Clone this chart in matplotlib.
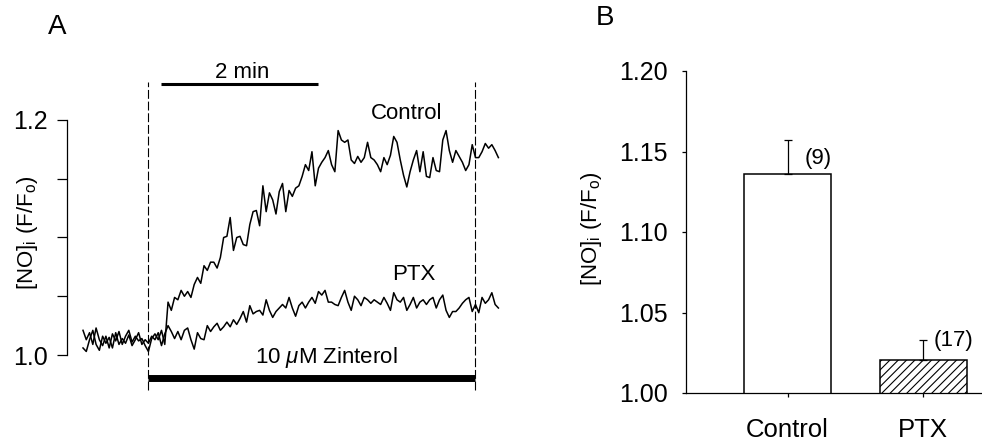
import matplotlib
matplotlib.use("Agg")
import matplotlib.pyplot as plt
import numpy as np

plt.rcParams['font.family'] = ['Liberation Sans', 'DejaVu Sans']
plt.rcParams['mathtext.fontset'] = 'custom'
plt.rcParams['mathtext.rm'] = 'Liberation Sans'
plt.rcParams['mathtext.it'] = 'Liberation Sans:italic'
plt.rcParams['hatch.linewidth'] = 0.8

# panel A: traces sampled every 2.5 s
dt = 2.5
control_trace = [
    1.021, 1.013, 1.019, 1.009, 1.023, 1.013, 1.008, 1.016, 1.006, 1.018,
    1.012, 1.020, 1.009, 1.016, 1.021, 1.011, 1.016, 1.012, 1.014, 1.008,
    1.003, 1.014, 1.018, 1.013, 1.021, 1.009, 1.045, 1.038, 1.049, 1.047,
    1.055, 1.050, 1.054, 1.049, 1.060, 1.066, 1.061, 1.076, 1.072, 1.079,
    1.079, 1.074, 1.083, 1.100, 1.101, 1.117, 1.089, 1.100, 1.101, 1.094,
    1.093, 1.111, 1.122, 1.123, 1.110, 1.144, 1.122, 1.138, 1.132, 1.120,
    1.139, 1.146, 1.122, 1.140, 1.135, 1.142, 1.144, 1.152, 1.162, 1.157,
    1.173, 1.144, 1.159, 1.164, 1.168, 1.174, 1.162, 1.156, 1.191, 1.183,
    1.181, 1.183, 1.166, 1.163, 1.169, 1.164, 1.168, 1.181, 1.168, 1.166,
    1.162, 1.156, 1.168, 1.162, 1.170, 1.186, 1.181, 1.166, 1.153, 1.143,
    1.156, 1.166, 1.174, 1.156, 1.173, 1.152, 1.151, 1.168, 1.157, 1.156,
    1.183, 1.191, 1.174, 1.164, 1.174, 1.169, 1.164, 1.157, 1.162, 1.179,
    1.168, 1.168, 1.173, 1.180, 1.176, 1.179, 1.174, 1.168,
]
ptx_trace = [
    1.006, 1.003, 1.013, 1.021, 1.009, 1.004, 1.016, 1.010, 1.015, 1.006,
    1.019, 1.009, 1.014, 1.010, 1.017, 1.008, 1.013, 1.019, 1.009, 1.013,
    1.010, 1.016, 1.013, 1.019, 1.008, 1.018, 1.025, 1.020, 1.014, 1.020,
    1.013, 1.021, 1.023, 1.013, 1.005, 1.019, 1.014, 1.013, 1.025, 1.020,
    1.024, 1.027, 1.021, 1.024, 1.028, 1.024, 1.030, 1.026, 1.031, 1.037,
    1.028, 1.042, 1.035, 1.037, 1.038, 1.034, 1.047, 1.038, 1.032, 1.037,
    1.040, 1.043, 1.040, 1.049, 1.040, 1.033, 1.042, 1.045, 1.040, 1.045,
    1.049, 1.044, 1.054, 1.051, 1.055, 1.045, 1.045, 1.043, 1.042, 1.049,
    1.055, 1.045, 1.038, 1.050, 1.047, 1.042, 1.049, 1.047, 1.044, 1.047,
    1.045, 1.043, 1.049, 1.044, 1.038, 1.053, 1.047, 1.045, 1.049, 1.038,
    1.043, 1.049, 1.040, 1.045, 1.047, 1.043, 1.047, 1.049, 1.040, 1.047,
    1.051, 1.038, 1.032, 1.037, 1.037, 1.040, 1.044, 1.047, 1.049, 1.037,
    1.043, 1.036, 1.049, 1.044, 1.047, 1.053, 1.043, 1.040,
]
drug_on, drug_off = 50, 300      # s
scale_bar = (60, 180)            # 2 min

# panel B: summary
groups = ['Control', 'PTX']
means = [1.136, 1.0205]
sems = [0.021, 0.0125]
n_cells = ['(9)', '(17)']

t = np.arange(len(control_trace)) * dt

fig = plt.figure(figsize=(9.82, 4.45), dpi=100)

# ---- A
ax = fig.add_axes([67/982, 50/445, 433/982, 335/445])
ax.plot(t, control_trace, color='black', lw=1.1)
ax.plot(t, ptx_trace, color='black', lw=1.1)
ax.set_xlim(-12.23, 318.73)
ax.set_ylim(0.96596, 1.25106)
for s in ['top', 'right', 'bottom']:
    ax.spines[s].set_visible(False)
ax.spines['left'].set_bounds(1.0, 1.2)
ax.spines['left'].set_linewidth(0.9)
ax.set_xticks([])
ax.set_yticks([1.0, 1.05, 1.1, 1.15, 1.2])
ax.set_yticklabels(['1.0', '', '', '', '1.2'])
ax.tick_params(axis='y', length=7, width=0.9, pad=7, labelsize=18)

for x in (drug_on, drug_off):
    ax.plot([x, x], [0.9702, 1.2323], color='black', lw=0.8, ls=(0, (8, 2.5)), clip_on=False)
ax.plot([drug_on, drug_off], [0.9804, 0.9804], color='black', lw=5, solid_capstyle='butt', clip_on=False)
ax.plot(scale_bar, [1.2306, 1.2306], color='black', lw=2.2, solid_capstyle='butt', clip_on=False)
ax.text(sum(scale_bar) / 2 + 2, 1.2357, '2 min', ha='center', va='baseline', fontsize=16)
ax.text(247.6, 1.2009, 'Control', ha='center', va='baseline', fontsize=16)
ax.text(253, 1.0638, 'PTX', ha='center', va='baseline', fontsize=16)
ax.text(185.7, 0.9932, r'10 $\mu$M Zinterol', ha='center', va='baseline', fontsize=16)

ylab = r'[NO]$_\mathregular{i}$ (F/F$_\mathregular{o}$)'
fig.text(27/982, 1 - 233/445, ylab, rotation=90, ha='center', va='center', fontsize=16)
fig.text(57/982, 1 - 27/445, 'A', ha='center', va='center', fontsize=20)

# ---- B
bx = fig.add_axes([686/982, 52/445, 296/982, 322/445])
pos = np.arange(len(groups))
bars = bx.bar(pos, means, width=0.642, bottom=0, color='white', edgecolor='black', linewidth=1.1, zorder=2)
bars[1].set_hatch('////')
bx.errorbar(pos, means, yerr=[[0, 0], sems], fmt='none', ecolor='black', elinewidth=0.9,
            capsize=3.2, capthick=0.9, zorder=3)
for i, lab in enumerate(n_cells):
    bx.text(pos[i] + 0.225, [1.1457, 1.0323][i], lab, ha='center', va='center', fontsize=16)
bx.set_ylim(1.0, 1.2)
bx.set_xlim(-0.749, 1.435)
for s in ['top', 'right']:
    bx.spines[s].set_visible(False)
bx.spines['left'].set_linewidth(0.9)
bx.spines['bottom'].set_linewidth(0.9)
bx.set_yticks([1.0, 1.05, 1.1, 1.15, 1.2])
bx.set_yticklabels(['1.00', '1.05', '1.10', '1.15', '1.20'])
bx.set_xticks(pos)
bx.set_xticklabels(groups)
bx.tick_params(axis='y', length=3, width=0.9, pad=10, labelsize=18)
bx.tick_params(axis='x', length=3, width=0.9, pad=15, labelsize=18.5)
fig.text(591/982, 1 - 229/445, ylab, rotation=90, ha='center', va='center', fontsize=16)
fig.text(605/982, 1 - 18/445, 'B', ha='center', va='center', fontsize=20)

fig.savefig('out.png', dpi=100)
